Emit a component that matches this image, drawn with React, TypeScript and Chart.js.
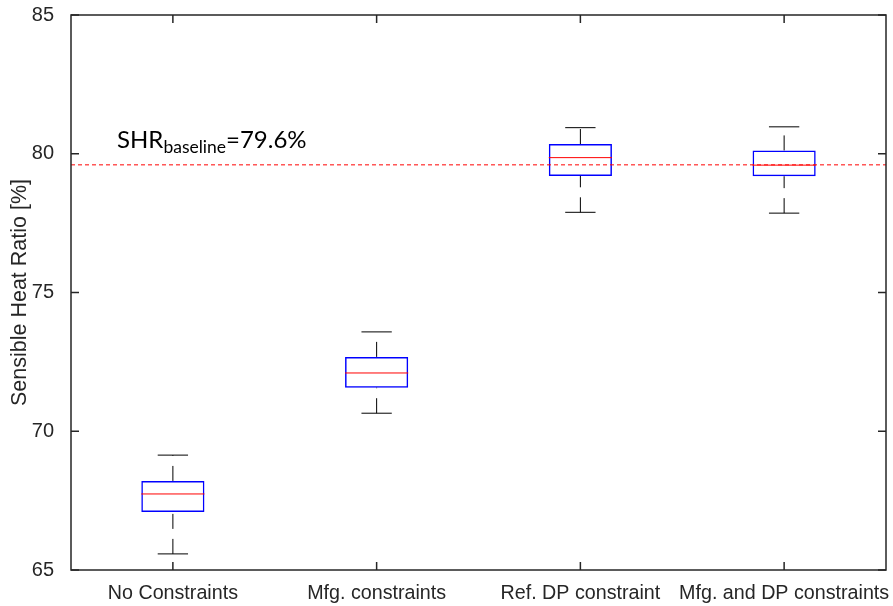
import { useEffect, useRef } from "react";
import { Chart, registerables } from "chart.js";

Chart.register(...registerables);

// Sensible heat ratio distributions per design scenario (percent)
const categories = [
  "No Constraints",
  "Mfg. constraints",
  "Ref. DP constraint",
  "Mfg. and DP constraints",
];
const lowerWhisker = [65.58, 70.65, 77.89, 77.86];
const q1 = [67.09, 71.57, 79.2, 79.19];
const median = [67.74, 72.1, 79.86, 79.59];
const q3 = [68.21, 72.68, 80.35, 80.12];
const upperWhisker = [69.14, 73.58, 80.94, 80.97];
const baselineSHR = 79.6;
const yTicks = [65, 70, 75, 80, 85];

const AXIS_COLOR = "#262626";
const AXIS_FONT = "Liberation Sans, Arial, sans-serif";

export default function App() {
  const ref = useRef<HTMLCanvasElement>(null);

  useEffect(() => {
    document.body.style.margin = "0";
    const canvas = ref.current;
    if (!canvas) return;

    const boxDecor = {
      id: "boxDecor",
      afterDatasetsDraw(chart: any) {
        const { ctx, chartArea, scales } = chart;
        const x = scales.x;
        const y = scales.y;
        const meta = chart.getDatasetMeta(0);
        ctx.save();

        // whiskers, caps and medians
        categories.forEach((_, i) => {
          const bar = meta.data[i];
          const cx = x.getPixelForValue(i);
          const half = bar.width / 2;
          const capHalf = half * 0.48;
          const yLow = y.getPixelForValue(lowerWhisker[i]);
          const yQ1 = y.getPixelForValue(q1[i]);
          const yQ3 = y.getPixelForValue(q3[i]);
          const yHigh = y.getPixelForValue(upperWhisker[i]);
          const yMed = y.getPixelForValue(median[i]);

          ctx.strokeStyle = "#000000";
          ctx.lineWidth = 1;
          ctx.setLineDash([15, 10]);
          ctx.beginPath();
          ctx.moveTo(cx, yQ3);
          ctx.lineTo(cx, yHigh);
          ctx.stroke();
          ctx.beginPath();
          ctx.moveTo(cx, yLow);
          ctx.lineTo(cx, yQ1);
          ctx.stroke();
          ctx.setLineDash([]);

          ctx.beginPath();
          ctx.moveTo(cx - capHalf, yHigh);
          ctx.lineTo(cx + capHalf, yHigh);
          ctx.moveTo(cx - capHalf, yLow);
          ctx.lineTo(cx + capHalf, yLow);
          ctx.stroke();

          ctx.strokeStyle = "#FF0000";
          ctx.beginPath();
          ctx.moveTo(cx - half, yMed);
          ctx.lineTo(cx + half, yMed);
          ctx.stroke();
        });

        // baseline reference line
        const yb = y.getPixelForValue(baselineSHR);
        ctx.strokeStyle = "#FF0000";
        ctx.lineWidth = 1;
        ctx.setLineDash([4, 3]);
        ctx.beginPath();
        ctx.moveTo(chartArea.left, yb);
        ctx.lineTo(chartArea.right, yb);
        ctx.stroke();
        ctx.setLineDash([]);

        // baseline label with subscript
        ctx.fillStyle = "#000000";
        ctx.textBaseline = "alphabetic";
        ctx.textAlign = "left";
        let tx = chartArea.left + 46;
        const ty = yb - 17;
        ctx.font = "24px Lato, sans-serif";
        ctx.fillText("SHR", tx, ty);
        tx += ctx.measureText("SHR").width;
        ctx.font = "17.5px Lato, sans-serif";
        ctx.fillText("baseline", tx, ty + 5);
        tx += ctx.measureText("baseline").width;
        ctx.font = "24px Lato, sans-serif";
        ctx.fillText("=" + baselineSHR.toFixed(1) + "%", tx, ty);

        // axes box with inward ticks on all sides
        ctx.strokeStyle = AXIS_COLOR;
        ctx.lineWidth = 1.5;
        ctx.strokeRect(
          chartArea.left,
          chartArea.top,
          chartArea.right - chartArea.left,
          chartArea.bottom - chartArea.top
        );
        const tl = 8;
        ctx.beginPath();
        y.ticks.forEach((t: any) => {
          const py = y.getPixelForValue(t.value);
          ctx.moveTo(chartArea.left, py);
          ctx.lineTo(chartArea.left + tl, py);
          ctx.moveTo(chartArea.right, py);
          ctx.lineTo(chartArea.right - tl, py);
        });
        categories.forEach((_, i) => {
          const px = x.getPixelForValue(i);
          ctx.moveTo(px, chartArea.bottom);
          ctx.lineTo(px, chartArea.bottom - tl);
          ctx.moveTo(px, chartArea.top);
          ctx.lineTo(px, chartArea.top + tl);
        });
        ctx.stroke();
        ctx.restore();
      },
    };

    const chart = new Chart(canvas, {
      type: "bar",
      data: {
        labels: categories,
        datasets: [
          {
            label: "Interquartile range",
            data: categories.map((_, i) => [q1[i], q3[i]]),
            backgroundColor: "rgba(0,0,0,0)",
            borderColor: "#0000FF",
            borderWidth: 1.5,
            borderSkipped: false,
            barPercentage: 0.31,
            categoryPercentage: 1,
          },
        ],
      },
      options: {
        responsive: false,
        animation: false,
        layout: { padding: { top: 15, right: 7, left: 0, bottom: 0 } },
        plugins: {
          legend: { display: false },
          tooltip: { enabled: false },
        },
        scales: {
          x: {
            type: "category",
            offset: true,
            grid: { display: false },
            border: { display: false },
            ticks: {
              color: AXIS_COLOR,
              font: { family: AXIS_FONT, size: 19.7 },
              padding: 4,
              maxRotation: 0,
              autoSkip: false,
            },
            afterFit(scale: any) {
              scale.height = 36;
              scale.paddingLeft = 0;
              scale.paddingRight = 0;
            },
          },
          y: {
            min: 65,
            max: 85,
            grid: { display: false },
            border: { display: false },
            afterBuildTicks(scale: any) {
              scale.ticks = yTicks.map((v) => ({ value: v }));
            },
            ticks: {
              color: AXIS_COLOR,
              font: { family: AXIS_FONT, size: 20 },
              padding: 9,
            },
            title: {
              display: true,
              text: "Sensible Heat Ratio [%]",
              color: AXIS_COLOR,
              font: { family: AXIS_FONT, size: 21.5 },
              padding: { top: 7, bottom: 0 },
            },
            afterFit(scale: any) {
              scale.width = 71;
              scale.paddingTop = 0;
              scale.paddingBottom = 0;
            },
          },
        },
      },
      plugins: [boxDecor],
    });

    return () => chart.destroy();
  }, []);

  return (
    <div style={{ width: 893, height: 606 }}>
      <canvas ref={ref} width={893} height={606} style={{ display: "block" }} />
    </div>
  );
}
